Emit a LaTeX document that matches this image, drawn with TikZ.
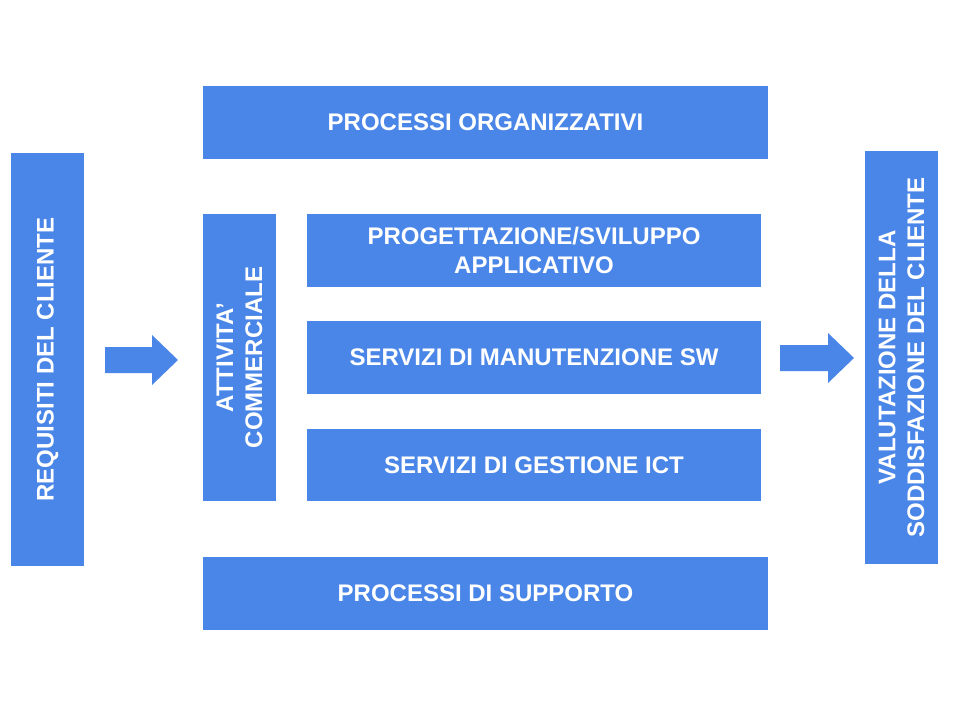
\documentclass[tikz,border=0pt]{standalone}
\usepackage{fontspec}
\setmainfont{Liberation Sans}
\definecolor{boxblue}{HTML}{4A86E8}
\begin{document}
\begin{tikzpicture}[x=0.75pt,y=-0.75pt,
  box/.style={fill=boxblue,draw=none,inner sep=0pt,text=white,align=center,
    font=\fontsize{18}{21.6}\selectfont\bfseries},
  vbox/.style={box,rotate=90},
  blockarrow/.style={fill=boxblue,draw=none}]
\useasboundingbox (0,0) rectangle (960,720);
\fill[white] (0,0) rectangle (960,720);
\node[vbox,minimum width=309.75pt,minimum height=54.75pt] (req) at (47.5,359.5) {REQUISITI DEL CLIENTE};
\node[box,minimum width=423.75pt,minimum height=54.75pt] (org) at (485.5,122.5) {PROCESSI ORGANIZZATIVI};
\node[vbox,minimum width=215.25pt,minimum height=54.75pt] (att) at (239.5,357.5) {ATTIVITA’\\COMMERCIALE};
\node[box,minimum width=340.5pt,minimum height=54.75pt] (prog) at (534,250.5) {PROGETTAZIONE/SVILUPPO\\APPLICATIVO};
\node[box,minimum width=340.5pt,minimum height=54.75pt] (man) at (534,357.5) {SERVIZI DI MANUTENZIONE SW};
\node[box,minimum width=340.5pt,minimum height=54pt] (gest) at (534,465) {SERVIZI DI GESTIONE ICT};
\node[box,minimum width=423.75pt,minimum height=54.75pt] (sup) at (485.5,593.5) {PROCESSI DI SUPPORTO};
\node[vbox,minimum width=309.75pt,minimum height=54.75pt] (val) at (901.5,357.5) {VALUTAZIONE DELLA\\SODDISFAZIONE DEL CLIENTE};
% block arrows
\fill[blockarrow] (105,347) -- (152,347) -- (152,335) -- (178,360) -- (152,385) -- (152,373) -- (105,373) -- cycle;
\fill[blockarrow] (780,345) -- (828,345) -- (828,333) -- (854,358) -- (828,383) -- (828,371) -- (780,371) -- cycle;
\end{tikzpicture}
\end{document}
